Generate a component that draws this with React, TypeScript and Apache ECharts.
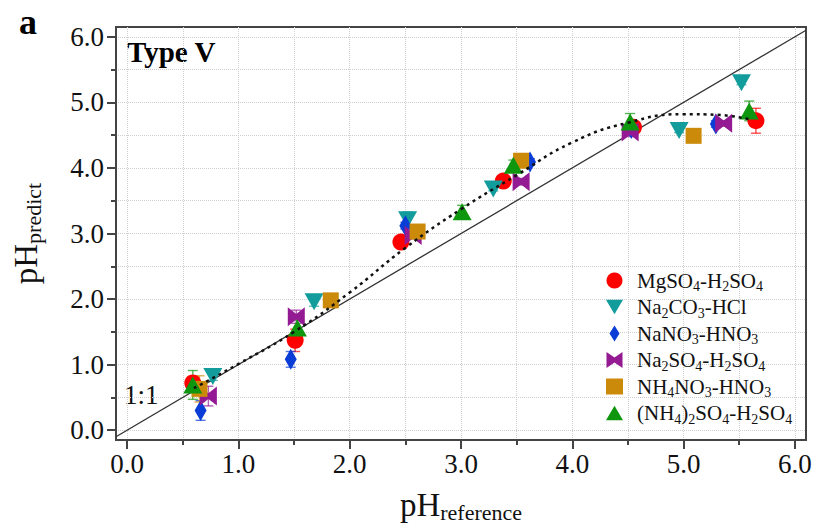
import React, { useEffect, useRef } from "react";
import * as echarts from "echarts";

const FONT = "'Liberation Serif', 'Times New Roman', serif";

const seriesNames = [
  "MgSO4-H2SO4",
  "Na2CO3-HCl",
  "NaNO3-HNO3",
  "Na2SO4-H2SO4",
  "NH4NO3-HNO3",
  "(NH4)2SO4-H2SO4",
];

// [pH_reference, pH_predict, error]
const mgso4: number[][] = [
  [0.59, 0.72, 0.05], [1.51, 1.37, 0.17], [2.46, 2.87, 0.05],
  [3.38, 3.80, 0.05], [4.55, 4.62, 0.06], [5.65, 4.72, 0.19],
];
const na2co3: number[][] = [
  [0.77, 0.82, 0.06], [1.68, 1.96, 0.07], [2.52, 3.21, 0.12],
  [3.29, 3.68, 0.03], [4.96, 4.57, 0.03], [5.52, 5.30, 0.03],
];
const nano3: number[][] = [
  [0.66, 0.30, 0.15], [1.47, 1.08, 0.12], [2.50, 3.12, 0.05],
  [3.62, 4.09, 0.05], [4.53, 4.60, 0.05], [5.29, 4.67, 0.05],
];
const na2so4: number[][] = [
  [0.73, 0.52, 0.15], [1.52, 1.73, 0.10], [2.57, 2.97, 0.05],
  [3.54, 3.79, 0.05], [4.52, 4.55, 0.07], [5.36, 4.68, 0.04],
];
const nh4no3: number[][] = [
  [0.65, 0.63, 0.2], [1.83, 1.98, 0.03], [2.61, 3.03, 0.05],
  [3.54, 4.11, 0.05], [5.09, 4.49, 0.03],
];
const nh42so4: number[][] = [
  [0.59, 0.69, 0.22], [1.53, 1.56, 0.12], [3.01, 3.33, 0.1],
  [3.47, 4.04, 0.08], [4.52, 4.70, 0.13], [5.59, 4.87, 0.15],
];

const fitCurve: number[][] = [
  [0.6, 0.64], [1.0, 1.01], [1.5, 1.5], [2.0, 2.1], [2.5, 2.78], [3.0, 3.37],
  [3.5, 3.89], [4.0, 4.39], [4.5, 4.69], [5.0, 4.82], [5.3, 4.81], [5.6, 4.74],
];

const oneToOne: number[][] = [[-0.1, -0.1], [6.1, 6.1]];

const majorTicks = [0, 1, 2, 3, 4, 5, 6];
const minorTicks = [0, 0.5, 1, 1.5, 2, 2.5, 3, 3.5, 4, 4.5, 5, 5.5, 6];

const colors = ["#ff0000", "#139c9c", "#0a3cd6", "#941a94", "#cc8a0a", "#0e960e"];
const symbols = [
  "circle",
  "path://M0,0 L20,0 L10,17 Z",
  "diamond",
  "path://M0,0 L10,7 L20,0 L20,20 L10,13 L0,20 Z",
  "rect",
  "path://M10,0 L20,17 L0,17 Z",
];
const sizes: any[] = [17, [19, 17], [12, 21], [17, 19], 16, [19, 17]];
const legendIcons = [
  "circle",
  "path://M0,0 L20,0 L10,17 Z",
  "path://M5,0 L10,8 L5,16 L0,8 Z",
  "path://M0,0 L10,7 L20,0 L20,20 L10,13 L0,20 Z",
  "rect",
  "path://M10,0 L20,17 L0,17 Z",
];
const datasets = [mgso4, na2co3, nano3, na2so4, nh4no3, nh42so4];

function subRich(name: string) {
  return name.replace(/(\d+)/g, "\u0001$1\u0002").split(/(\u0001\d+\u0002)/).filter((s) => s.length)
    .map((s) => (s.startsWith("\u0001") ? `{s|${s.slice(1, -1)}}` : `{n|${s}}`)).join("");
}

export default function App() {
  const ref = useRef<HTMLDivElement>(null);
  useEffect(() => {
    if (!ref.current) return;
    const chart = echarts.init(ref.current, undefined, { renderer: "svg" });

    const errSeries = datasets.map((d, i) => ({
      type: "custom",
      name: "err" + i,
      data: d,
      encode: { x: 0, y: 1 },
      z: 3,
      renderItem: (params: any, api: any) => {
        const x = api.value(0), y = api.value(1), e = api.value(2);
        const hi = api.coord([x, y + e]);
        const lo = api.coord([x, y - e]);
        const w = 5;
        const st = { stroke: colors[i], lineWidth: 1.4, opacity: 0.7 };
        return {
          type: "group",
          children: [
            { type: "line", shape: { x1: hi[0], y1: hi[1], x2: lo[0], y2: lo[1] }, style: st },
            { type: "line", shape: { x1: hi[0] - w, y1: hi[1], x2: hi[0] + w, y2: hi[1] }, style: st },
            { type: "line", shape: { x1: lo[0] - w, y1: lo[1], x2: lo[0] + w, y2: lo[1] }, style: st },
          ],
        };
      },
    }));

    const scatterSeries = datasets.map((d, i) => ({
      type: "scatter",
      name: seriesNames[i],
      data: d.map((p) => [p[0], p[1]]),
      symbol: symbols[i],
      symbolSize: sizes[i],
      itemStyle: { color: colors[i], opacity: 1 },
      z: 4,
    }));

    const axisCommon = {
      min: -0.1,
      max: 6.1,
    };

    chart.setOption({
      animation: false,
      grid: {
        left: 116, right: 14, top: 27, bottom: 88,
        show: true, borderColor: "#444", borderWidth: 2, backgroundColor: "transparent",
      },
      graphic: [
        { type: "text", left: 19, top: 4, style: { text: "a", font: `bold 36px ${FONT}`, fill: "#000" } },
        { type: "text", left: 127, top: 37, style: { text: "Type V", font: `bold 29px ${FONT}`, fill: "#000" } },
        { type: "text", left: 124, top: 381, style: { text: "1:1", font: `27px ${FONT}`, fill: "#111" } },
      ],
      legend: {
        orient: "vertical",
        left: 601,
        top: 265,
        itemWidth: 17,
        itemHeight: 16,
        itemGap: 3,
        data: seriesNames.map((n, i) => ({ name: n, icon: legendIcons[i] })),
        formatter: (name: string) => subRich(name),
        textStyle: {
          fontFamily: FONT,
          color: "#111",
          padding: [0, 0, 0, 9],
          rich: {
            n: { fontSize: 21, fontFamily: FONT, color: "#111", lineHeight: 26 },
            s: { fontSize: 14, fontFamily: FONT, color: "#111", lineHeight: 12, verticalAlign: "bottom" },
          },
        },
      },
      xAxis: [
        {
          ...axisCommon,
          type: "value",
          position: "bottom",
          axisLine: { show: true, onZero: false, lineStyle: { color: "#444", width: 2 } },
          axisTick: { show: true, length: 5, customValues: minorTicks, lineStyle: { color: "#444", width: 2 } },
          axisLabel: { show: false },
          splitLine: { show: true, lineStyle: { color: "#cfcfcf", type: "dotted", width: 1 } },
        },
        {
          ...axisCommon,
          type: "value",
          position: "bottom",
          name: "{n|pH}{s|reference}",
          nameLocation: "middle",
          nameGap: 47,
          nameTextStyle: {
            rich: {
              n: { fontSize: 33, fontFamily: FONT, color: "#111", lineHeight: 36 },
              s: { fontSize: 22, fontFamily: FONT, color: "#111", lineHeight: 22, verticalAlign: "bottom" },
            },
          },
          axisLine: { show: false, onZero: false },
          axisTick: { show: true, length: 9, customValues: majorTicks, lineStyle: { color: "#444", width: 2 } },
          axisLabel: {
            customValues: majorTicks, margin: 10, fontSize: 27, fontFamily: FONT, color: "#111",
            formatter: (v: number) => v.toFixed(1),
          },
          splitLine: { show: false },
        },
      ],
      yAxis: [
        {
          type: "value",
          min: -0.15,
          max: 6.15,
          position: "left",
          axisLine: { show: true, onZero: false, lineStyle: { color: "#444", width: 2 } },
          axisTick: { show: true, length: 5, customValues: minorTicks, lineStyle: { color: "#444", width: 2 } },
          axisLabel: { show: false },
          splitLine: { show: true, lineStyle: { color: "#cfcfcf", type: "dotted", width: 1 } },
        },
        {
          type: "value",
          min: -0.15,
          max: 6.15,
          position: "left",
          name: "{n|pH}{s|predict}",
          nameLocation: "middle",
          nameRotate: 90,
          nameGap: 72,
          nameTextStyle: {
            rich: {
              n: { fontSize: 33, fontFamily: FONT, color: "#111", lineHeight: 36 },
              s: { fontSize: 22, fontFamily: FONT, color: "#111", lineHeight: 22, verticalAlign: "bottom" },
            },
          },
          axisLine: { show: false, onZero: false },
          axisTick: { show: true, length: 9, customValues: majorTicks, lineStyle: { color: "#444", width: 2 } },
          axisLabel: {
            customValues: majorTicks, margin: 12, fontSize: 27, fontFamily: FONT, color: "#111",
            formatter: (v: number) => v.toFixed(1),
          },
          splitLine: { show: false },
        },
      ],
      series: [
        {
          type: "line",
          name: "1:1",
          data: oneToOne,
          symbol: "none",
          lineStyle: { color: "#333", width: 1.3 },
          z: 2,
          silent: true,
        },
        {
          type: "line",
          name: "fit",
          data: fitCurve,
          smooth: true,
          symbol: "none",
          lineStyle: { color: "#111", width: 2.5, type: [3, 4] },
          z: 5,
          silent: true,
        },
        ...errSeries,
        ...scatterSeries,
      ],
    });
    return () => chart.dispose();
  }, []);
  return <div ref={ref} style={{ width: 820, height: 528, position: "absolute", left: 0, top: 0 }} />;
}
